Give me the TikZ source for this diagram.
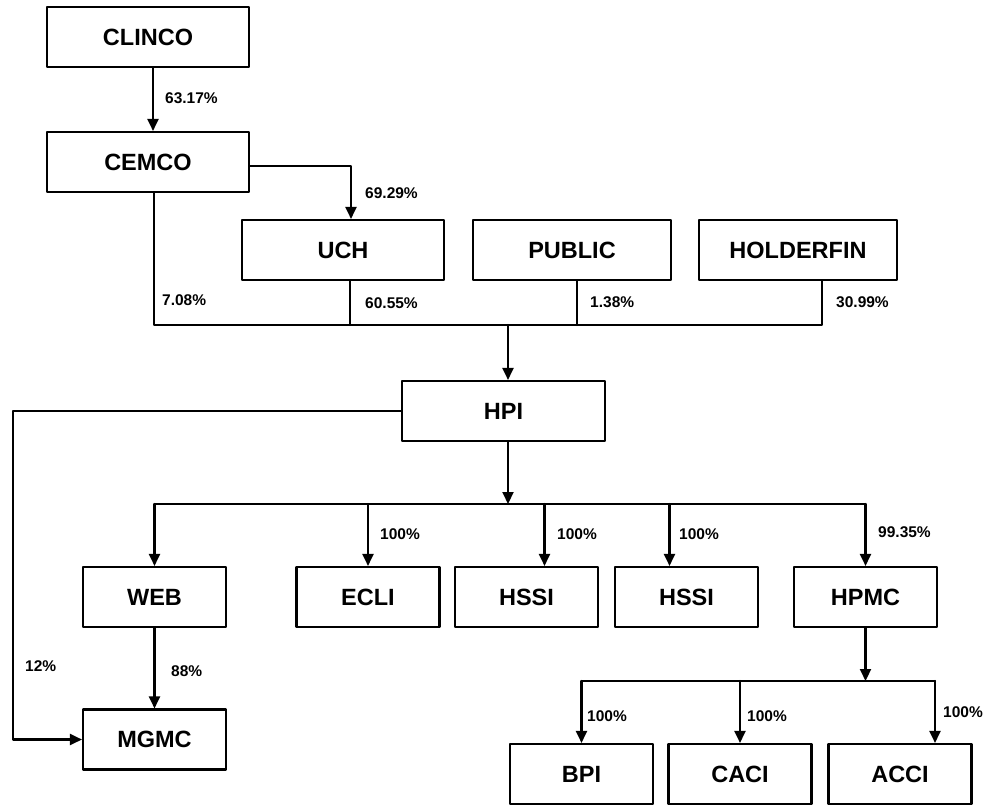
\documentclass[tikz,border=0pt]{standalone}
\usepackage{fontspec}
\setsansfont{Liberation Sans}
\usetikzlibrary{arrows.meta,positioning}
\begin{document}
\begin{tikzpicture}[x=1pt, y=-1pt, font=\sffamily\bfseries, line cap=round, line join=round, >={Triangle[length=12pt,width=11pt]},
  firm/.style={draw, line width=2.1pt, minimum width=143pt, minimum height=60pt, inner sep=0pt, font=\sffamily\bfseries\fontsize{23.5}{26}\selectfont},
  wide/.style={firm, minimum width=202pt},
  share/.style={anchor=west, inner sep=0pt, font=\sffamily\bfseries\fontsize{15.5}{18}\selectfont},
  link/.style={line width=2.1pt}]
\useasboundingbox (0,0) rectangle (984,805);
\coordinate (hub) at (508,325); \coordinate (fork) at (508,504); \coordinate (split) at (864,681); \coordinate (lane) at (13,414);
\node[wide] (CLINCO) at (148,37) {CLINCO}; \node[wide] (CEMCO) at (148,162) {CEMCO};
\node[wide] (UCH) at (343,250) {UCH}; \node[wide, minimum width=198pt] (PUBLIC) at (572,250) {PUBLIC}; \node[wide, minimum width=198pt] (HOLDERFIN) at (798,250) {HOLDERFIN};
\node[wide, minimum width=203pt] (HPI) at (503.5,411) {HPI};
\node[firm] (WEB) at (154.5,597) {WEB}; \node[firm] (ECLI) at (368,597) {ECLI}; \node[firm] (HSSIa) at (526.5,597) {HSSI}; \node[firm] (HSSIb) at (686.5,597) {HSSI}; \node[firm] (HPMC) at (865.5,597) {HPMC};
\node[firm] (MGMC) at (154.5,739.5) {MGMC};
\node[firm] (BPI) at (581.5,774) {BPI}; \node[firm] (CACI) at (740,774) {CACI}; \node[firm] (ACCI) at (900,774) {ACCI};
\draw[link, ->] ([xshift=5]CLINCO.south) -- ([xshift=5]CEMCO.north);
\draw[link, ->] ([yshift=-4]CEMCO.east) -| ([xshift=8]UCH.north);
\draw[link] ([xshift=6]CEMCO.south) |- (hub) -| ([xshift=24]HOLDERFIN.south);
\draw[link] ([xshift=7]UCH.south) -- ([xshift=7]UCH.south |- hub);
\draw[link] ([xshift=5]PUBLIC.south) -- ([xshift=5]PUBLIC.south |- hub);
\draw[link, ->] (hub) -- (hub |- HPI.north);
\draw[link, ->] (HPI.west) -| (lane |- MGMC.west) -- (MGMC.west);
\draw[link, ->] (HPI.south -| fork) -- (fork);
\draw[link] (WEB.north |- fork) -- (HPMC.north |- fork);
\foreach \n/\s in {WEB/0, ECLI/0, HSSIa/18, HSSIb/-17, HPMC/0} \draw[link, ->] ([xshift=\s]\n.north |- fork) -- ([xshift=\s]\n.north);
\draw[link, ->] (WEB) -- (MGMC);
\draw[link, ->] (HPMC.south) -- (HPMC.south |- split);
\draw[link] (BPI.north |- split) -- ([xshift=35]ACCI.north |- split);
\foreach \n/\s in {BPI/0, CACI/0, ACCI/35} \draw[link, ->] ([xshift=\s]\n.north |- split) -- ([xshift=\s]\n.north);
\node[share] (sCEMCO) at (165,98) {63.17\%}; \node[share] (sUCH) at (365,193) {69.29\%};
\node[share] (sCEMCOb) at (162,300) {7.08\%}; \node[share] (sUCHb) at (365,303) {60.55\%}; \node[share] (sPUBLIC) at (590,302) {1.38\%}; \node[share] (sHOLDERFIN) at (836,302) {30.99\%};
\node[share] (sHPI) at (25,666) {12\%}; \node[share] (sWEB) at (171,671) {88\%};
\node[share] (sECLI) at (380,534) {100\%}; \node[share] (sHSSIa) at (557,534) {100\%}; \node[share] (sHSSIb) at (679,534) {100\%}; \node[share] (sHPMC) at (878,532) {99.35\%};
\node[share] (sBPI) at (587,716) {100\%}; \node[share] (sCACI) at (747,716) {100\%}; \node[share] (sACCI) at (943,712) {100\%};
\end{tikzpicture}
\end{document}
